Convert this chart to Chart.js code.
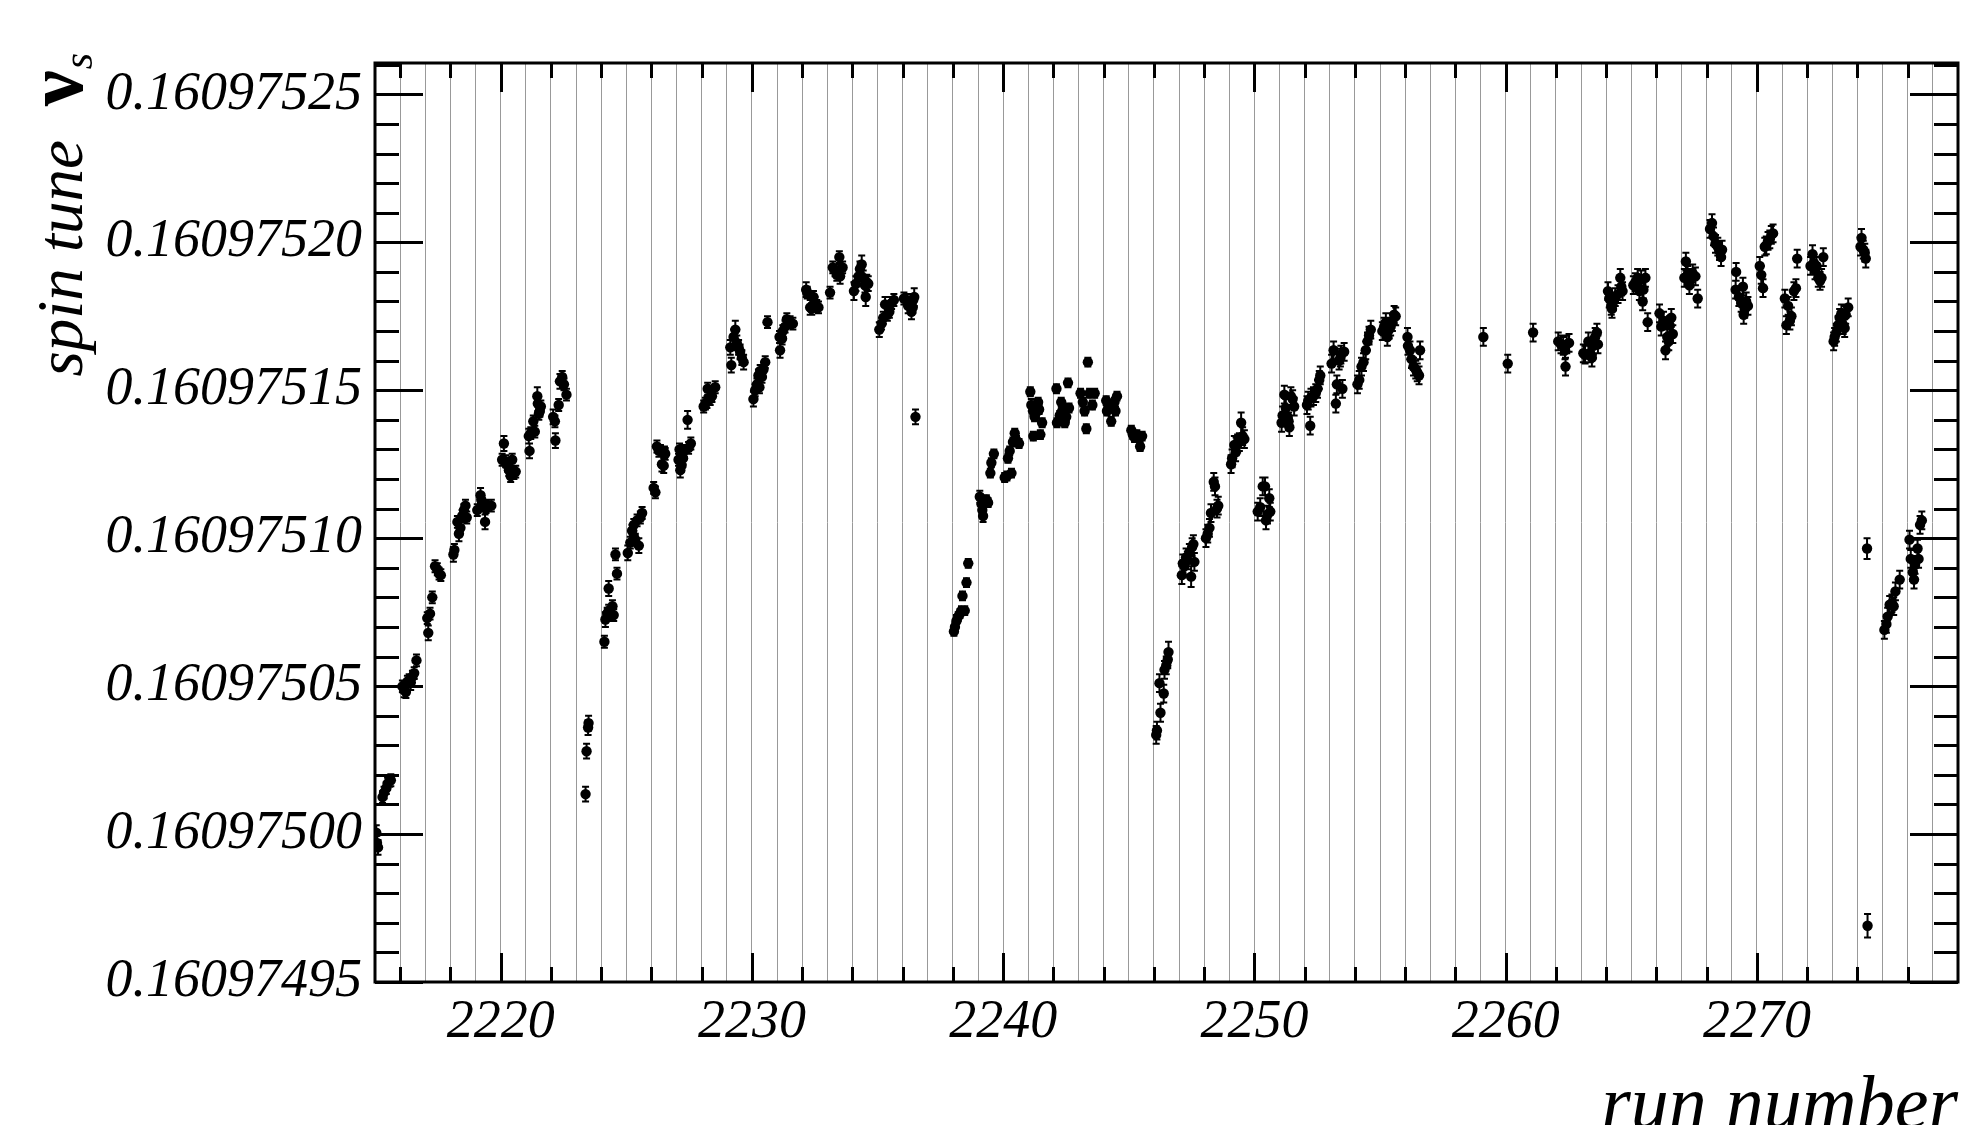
<!DOCTYPE html>
<html>
<head>
<meta charset="utf-8">
<script src="https://cdn.jsdelivr.net/npm/chart.js@4.4.1/dist/chart.umd.min.js"></script>
<style>
  html, body { margin: 0; padding: 0; background: #fff; overflow: hidden; }
  #wrap { position: relative; width: 1966px; height: 1125px; }
  canvas { display: block; }
</style>
</head>
<body>
<div id="wrap"><canvas id="c" width="1966" height="1125"></canvas></div>
<script>
// ---------------- data ----------------
const runNumber = [
  2215.05,2215.08,2215.12,2215.30,2215.36,2215.45,2215.50,2215.58,2215.63,
  2216.09,2216.16,2216.23,2216.29,2216.36,2216.42,2216.49,2216.56,2216.65,
  2217.08,2217.12,2217.19,2217.28,2217.39,2217.48,2217.55,2217.62,
  2218.12,2218.16,2218.28,2218.34,2218.40,2218.47,2218.54,2218.60,2218.65,
  2219.07,2219.20,2219.23,2219.30,2219.38,2219.42,2219.53,2219.63,
  2220.06,2220.13,2220.20,2220.28,2220.33,2220.40,2220.46,2220.53,2220.60,
  2221.12,2221.15,2221.20,2221.30,2221.36,2221.46,2221.48,2221.52,2221.56,2221.60,
  2222.09,2222.16,2222.18,2222.31,2222.36,2222.45,2222.52,2222.62,
  2223.38,2223.42,2223.48,2223.50,
  2224.13,2224.17,2224.24,2224.30,2224.30,2224.37,2224.45,2224.50,2224.57,2224.63,
  2225.06,2225.16,2225.23,2225.30,2225.30,2225.36,2225.43,2225.50,2225.56,2225.63,
  2226.09,2226.16,2226.22,2226.30,2226.36,2226.42,2226.49,2226.52,2226.55,
  2227.08,2227.12,2227.15,2227.20,2227.26,2227.30,2227.44,2227.48,2227.57,
  2228.08,2228.15,2228.21,2228.24,2228.34,2228.41,2228.54,
  2229.14,2229.18,2229.27,2229.34,2229.40,2229.47,2229.53,2229.60,2229.67,
  2230.06,2230.13,2230.20,2230.26,2230.30,2230.33,2230.40,2230.46,2230.53,2230.62,
  2231.10,2231.12,2231.20,2231.23,2231.32,2231.39,2231.52,2231.63,
  2232.16,2232.20,2232.32,2232.38,2232.45,2232.51,2232.58,2232.65,
  2233.11,2233.22,2233.31,2233.38,2233.44,2233.48,2233.51,2233.61,
  2234.06,2234.14,2234.24,2234.30,2234.37,2234.43,2234.50,2234.53,2234.57,2234.63,
  2235.07,2235.16,2235.23,2235.30,2235.39,2235.47,2235.56,2235.65,
  2236.05,2236.16,2236.22,2236.29,2236.35,2236.40,2236.42,2236.46,2236.51,
  2238.04,2238.08,2238.14,2238.21,2238.28,2238.34,2238.38,2238.47,2238.54,2238.61,
  2239.07,2239.14,2239.17,2239.20,2239.27,2239.33,2239.40,2239.49,2239.53,2239.63,
  2240.06,2240.15,2240.19,2240.26,2240.33,2240.39,2240.46,2240.53,2240.63,
  2241.08,2241.12,2241.19,2241.20,2241.25,2241.32,2241.39,2241.43,2241.48,2241.55,
  2242.12,2242.14,2242.25,2242.31,2242.35,2242.38,2242.45,2242.51,2242.58,2242.62,
  2243.08,2243.17,2243.24,2243.31,2243.37,2243.44,2243.55,2243.64,
  2244.10,2244.13,2244.23,2244.30,2244.37,2244.43,2244.47,2244.53,
  2245.10,2245.16,2245.23,2245.32,2245.40,2245.45,2245.53,
  2246.09,2246.12,2246.22,2246.26,2246.39,2246.42,2246.49,2246.55,2246.58,
  2247.11,2247.15,2247.21,2247.28,2247.33,2247.41,2247.48,2247.52,2247.57,2247.61,
  2248.07,2248.14,2248.21,2248.27,2248.38,2248.43,2248.51,2248.56,
  2249.07,2249.11,2249.20,2249.25,2249.27,2249.33,2249.40,2249.47,2249.53,2249.60,
  2250.13,2250.23,2250.33,2250.42,2250.46,2250.52,2250.59,2250.63,
  2251.08,2251.12,2251.19,2251.25,2251.32,2251.36,2251.39,2251.45,2251.52,2251.58,
  2252.09,2252.14,2252.22,2252.25,2252.35,2252.44,2252.51,2252.58,2252.62,
  2253.07,2253.15,2253.24,2253.28,2253.37,2253.42,2253.44,2253.50,2253.57,
  2254.10,2254.17,2254.26,2254.34,2254.43,2254.50,2254.56,2254.63,
  2255.09,2255.16,2255.23,2255.29,2255.36,2255.42,2255.49,2255.56,2255.62,
  2256.09,2256.11,2256.19,2256.25,2256.33,2256.42,2256.48,2256.55,2256.59,
  2259.11,
  2260.08,
  2261.09,
  2262.09,2262.20,2262.29,2262.36,2262.38,2262.43,2262.52,
  2263.09,2263.16,2263.29,2263.36,2263.43,2263.49,2263.56,2263.63,2263.67,
  2264.07,2264.12,2264.20,2264.23,2264.29,2264.36,2264.47,2264.56,2264.60,2264.65,
  2265.08,2265.16,2265.25,2265.32,2265.39,2265.45,2265.48,2265.56,2265.65,
  2266.12,2266.19,2266.28,2266.36,2266.43,2266.49,2266.52,2266.59,2266.65,
  2267.11,2267.17,2267.24,2267.31,2267.37,2267.44,2267.55,2267.64,
  2268.13,2268.21,2268.27,2268.35,2268.44,2268.51,2268.57,2268.61,
  2269.15,2269.17,2269.28,2269.37,2269.44,2269.47,2269.51,2269.57,2269.64,
  2270.11,2270.17,2270.24,2270.31,2270.37,2270.44,2270.51,2270.57,2270.64,
  2271.11,2271.17,2271.24,2271.31,2271.37,2271.47,2271.55,2271.60,
  2272.13,2272.21,2272.26,2272.31,2272.37,2272.44,2272.51,2272.57,2272.64,
  2273.05,2273.09,2273.16,2273.23,2273.29,2273.36,2273.43,2273.49,2273.53,2273.63,
  2274.12,2274.16,2274.23,2274.29,2274.33,2274.38,2274.40,
  2275.07,2275.15,2275.20,2275.28,2275.37,2275.44,2275.51,2275.68,
  2276.07,2276.12,2276.20,2276.25,2276.29,2276.39,2276.43,2276.49,2276.56
];

const spinTune = [
  0.1609750005,0.1609749970,0.1609749955,0.1609750125,0.1609750140,0.1609750155,0.1609750170,0.1609750180,0.1609750182,
  0.1609750499,0.1609750487,0.1609750480,0.1609750515,0.1609750520,0.1609750512,0.1609750532,0.1609750544,0.1609750587,
  0.1609750730,0.1609750680,0.1609750745,0.1609750800,0.1609750905,0.1609750895,0.1609750880,0.1609750875,
  0.1609750945,0.1609750960,0.1609751055,0.1609751015,0.1609751035,0.1609751075,0.1609751095,0.1609751110,0.1609751070,
  0.1609751095,0.1609751145,0.1609751130,0.1609751110,0.1609751055,0.1609751105,0.1609751110,0.1609751110,
  0.1609751265,0.1609751320,0.1609751260,0.1609751245,0.1609751230,0.1609751210,0.1609751265,0.1609751220,0.1609751225,
  0.1609751345,0.1609751295,0.1609751355,0.1609751395,0.1609751360,0.1609751480,0.1609751455,0.1609751420,0.1609751430,0.1609751445,
  0.1609751410,0.1609751395,0.1609751330,0.1609751450,0.1609751530,0.1609751545,0.1609751520,0.1609751485,
  0.1609750135,0.1609750280,0.1609750360,0.1609750375,
  0.1609750650,0.1609750725,0.1609750745,0.1609750755,0.1609750830,0.1609750740,0.1609750770,0.1609750740,0.1609750945,0.1609750880,
  0.1609750950,0.1609750985,0.1609751025,0.1609751045,0.1609751005,0.1609750995,0.1609751060,0.1609750975,0.1609751070,0.1609751085,
  0.1609751170,0.1609751155,0.1609751310,0.1609751295,0.1609751295,0.1609751250,0.1609751245,0.1609751290,0.1609751285,
  0.1609751265,0.1609751300,0.1609751230,0.1609751245,0.1609751270,0.1609751295,0.1609751400,0.1609751305,0.1609751320,
  0.1609751445,0.1609751455,0.1609751460,0.1609751505,0.1609751470,0.1609751480,0.1609751510,
  0.1609751645,0.1609751585,0.1609751680,0.1609751705,0.1609751660,0.1609751645,0.1609751630,0.1609751610,0.1609751595,
  0.1609751470,0.1609751500,0.1609751520,0.1609751550,0.1609751510,0.1609751565,0.1609751545,0.1609751570,0.1609751595,0.1609751730,
  0.1609751680,0.1609751635,0.1609751675,0.1609751700,0.1609751715,0.1609751740,0.1609751730,0.1609751725,
  0.1609751840,0.1609751830,0.1609751780,0.1609751775,0.1609751815,0.1609751795,0.1609751785,0.1609751780,
  0.1609751830,0.1609751915,0.1609751905,0.1609751890,0.1609751905,0.1609751950,0.1609751885,0.1609751915,
  0.1609751835,0.1609751860,0.1609751885,0.1609751910,0.1609751925,0.1609751880,0.1609751855,0.1609751815,0.1609751865,0.1609751860,
  0.1609751705,0.1609751725,0.1609751745,0.1609751790,0.1609751755,0.1609751765,0.1609751795,0.1609751805,
  0.1609751810,0.1609751805,0.1609751785,0.1609751795,0.1609751765,0.1609751780,0.1609751805,0.1609751815,0.1609751410,
  0.1609750685,0.1609750700,0.1609750720,0.1609750735,0.1609750745,0.1609750755,0.1609750805,0.1609750755,0.1609750850,0.1609750915,
  0.1609751140,0.1609751115,0.1609751095,0.1609751075,0.1609751125,0.1609751130,0.1609751120,0.1609751220,0.1609751255,0.1609751285,
  0.1609751205,0.1609751210,0.1609751270,0.1609751295,0.1609751220,0.1609751325,0.1609751355,0.1609751330,0.1609751320,
  0.1609751495,0.1609751450,0.1609751430,0.1609751345,0.1609751410,0.1609751425,0.1609751460,0.1609751435,0.1609751350,0.1609751390,
  0.1609751505,0.1609751390,0.1609751415,0.1609751460,0.1609751430,0.1609751435,0.1609751390,0.1609751410,0.1609751525,0.1609751440,
  0.1609751490,0.1609751460,0.1609751430,0.1609751370,0.1609751595,0.1609751490,0.1609751450,0.1609751490,
  0.1609751465,0.1609751430,0.1609751450,0.1609751395,0.1609751440,0.1609751460,0.1609751430,0.1609751480,
  0.1609751365,0.1609751350,0.1609751340,0.1609751350,0.1609751345,0.1609751310,0.1609751345,
  0.1609750335,0.1609750350,0.1609750510,0.1609750410,0.1609750475,0.1609750555,0.1609750570,0.1609750590,0.1609750615,
  0.1609750875,0.1609750915,0.1609750905,0.1609750935,0.1609750925,0.1609750950,0.1609750870,0.1609750970,0.1609750980,0.1609750920,
  0.1609751000,0.1609751015,0.1609751035,0.1609751085,0.1609751190,0.1609751175,0.1609751100,0.1609751110,
  0.1609751250,0.1609751270,0.1609751315,0.1609751290,0.1609751310,0.1609751320,0.1609751325,0.1609751390,0.1609751345,0.1609751335,
  0.1609751090,0.1609751105,0.1609751175,0.1609751175,0.1609751060,0.1609751080,0.1609751135,0.1609751090,
  0.1609751390,0.1609751415,0.1609751485,0.1609751440,0.1609751410,0.1609751395,0.1609751375,0.1609751480,0.1609751470,0.1609751445,
  0.1609751450,0.1609751465,0.1609751380,0.1609751475,0.1609751480,0.1609751490,0.1609751505,0.1609751535,0.1609751550,
  0.1609751590,0.1609751635,0.1609751455,0.1609751520,0.1609751600,0.1609751610,0.1609751620,0.1609751505,0.1609751630,
  0.1609751520,0.1609751535,0.1609751580,0.1609751595,0.1609751635,0.1609751665,0.1609751685,0.1609751705,
  0.1609751700,0.1609751715,0.1609751730,0.1609751680,0.1609751705,0.1609751715,0.1609751730,0.1609751755,0.1609751750,
  0.1609751680,0.1609751650,0.1609751635,0.1609751605,0.1609751580,0.1609751570,0.1609751560,0.1609751550,0.1609751635,
  0.1609751680,
  0.1609751590,
  0.1609751695,
  0.1609751665,0.1609751655,0.1609751650,0.1609751635,0.1609751580,0.1609751655,0.1609751660,
  0.1609751625,0.1609751620,0.1609751665,0.1609751625,0.1609751610,0.1609751650,0.1609751680,0.1609751695,0.1609751655,
  0.1609751835,0.1609751810,0.1609751785,0.1609751775,0.1609751800,0.1609751815,0.1609751825,0.1609751880,0.1609751850,0.1609751835,
  0.1609751855,0.1609751865,0.1609751880,0.1609751835,0.1609751875,0.1609751800,0.1609751840,0.1609751880,0.1609751730,
  0.1609751760,0.1609751715,0.1609751735,0.1609751635,0.1609751680,0.1609751665,0.1609751720,0.1609751745,0.1609751690,
  0.1609751880,0.1609751935,0.1609751890,0.1609751855,0.1609751880,0.1609751895,0.1609751885,0.1609751810,
  0.1609752045,0.1609752065,0.1609752020,0.1609751995,0.1609751985,0.1609751970,0.1609751950,0.1609751975,
  0.1609751840,0.1609751900,0.1609751815,0.1609751795,0.1609751850,0.1609751755,0.1609751775,0.1609751800,0.1609751785,
  0.1609751920,0.1609751890,0.1609751845,0.1609751985,0.1609751990,0.1609752005,0.1609752010,0.1609752025,0.1609752030,
  0.1609751810,0.1609751720,0.1609751785,0.1609751735,0.1609751750,0.1609751835,0.1609751845,0.1609751945,
  0.1609751920,0.1609751960,0.1609751930,0.1609751905,0.1609751920,0.1609751880,0.1609751870,0.1609751880,0.1609751950,
  0.1609751665,0.1609751680,0.1609751695,0.1609751720,0.1609751745,0.1609751760,0.1609751720,0.1609751710,0.1609751755,0.1609751780,
  0.1609751985,0.1609752015,0.1609751975,0.1609751965,0.1609751945,0.1609750965,0.1609749690,
  0.1609750690,0.1609750710,0.1609750735,0.1609750775,0.1609750780,0.1609750770,0.1609750820,0.1609750860,
  0.1609750995,0.1609750930,0.1609750885,0.1609750860,0.1609750910,0.1609750965,0.1609750930,0.1609751045,0.1609751060
];

const spinTuneErr = [
  2.5e-9,2.5e-9,2.5e-9,2e-9,2e-9,2e-9,2e-9,2e-9,2e-9,
  2e-9,2.5e-9,2e-9,2e-9,2e-9,2.5e-9,2e-9,2e-9,2e-9,
  2e-9,2.5e-9,2e-9,2e-9,2e-9,2e-9,2e-9,2e-9,
  2.5e-9,2e-9,2e-9,2.5e-9,2e-9,2e-9,2e-9,2e-9,2e-9,
  2e-9,2.5e-9,2e-9,2e-9,2.5e-9,2e-9,2e-9,2e-9,
  2e-9,2.5e-9,2e-9,2e-9,2e-9,2e-9,2e-9,2e-9,2e-9,
  2.5e-9,2.5e-9,2e-9,2e-9,2e-9,3e-9,2.5e-9,2e-9,2e-9,2e-9,
  2.5e-9,2e-9,2.5e-9,2e-9,2.5e-9,2e-9,2e-9,2e-9,
  2.5e-9,2.5e-9,2.5e-9,2.5e-9,
  2e-9,2.5e-9,2e-9,2e-9,2.5e-9,2e-9,2e-9,2e-9,2e-9,2e-9,
  2.5e-9,2e-9,2e-9,2e-9,2e-9,2e-9,2e-9,2.5e-9,2e-9,2e-9,
  2e-9,2e-9,2e-9,2e-9,2e-9,2.5e-9,2.5e-9,2e-9,2e-9,
  2e-9,2e-9,2.5e-9,2e-9,2e-9,2e-9,3e-9,2e-9,2e-9,
  2e-9,2e-9,2e-9,2e-9,2e-9,2e-9,2e-9,
  2.5e-9,2.5e-9,2.5e-9,3e-9,2.5e-9,2.5e-9,2.5e-9,2.5e-9,2.5e-9,
  2.5e-9,2e-9,2e-9,2e-9,2e-9,2e-9,2e-9,2.5e-9,2e-9,2e-9,
  2e-9,2.5e-9,2e-9,2e-9,2e-9,2e-9,2e-9,2e-9,
  2.5e-9,2e-9,2.5e-9,2e-9,2e-9,2e-9,2e-9,2e-9,
  2e-9,2e-9,2e-9,2e-9,2e-9,2e-9,2.5e-9,2e-9,
  3e-9,2.5e-9,2.5e-9,2.5e-9,3e-9,2.5e-9,2.5e-9,3e-9,2.5e-9,2.5e-9,
  2.5e-9,2e-9,2e-9,2.5e-9,2e-9,2e-9,2e-9,2e-9,
  2e-9,2e-9,2.5e-9,2e-9,2.5e-9,2e-9,2e-9,3e-9,2.5e-9,
  1.5e-9,1.5e-9,2e-9,1.5e-9,1.5e-9,1.5e-9,1.5e-9,1.5e-9,1.5e-9,1.5e-9,
  2e-9,2e-9,1.5e-9,2e-9,1.5e-9,1.5e-9,1.5e-9,1.5e-9,1.5e-9,1.5e-9,
  1.5e-9,1.5e-9,1.5e-9,1.5e-9,1.5e-9,1.5e-9,1.5e-9,1.5e-9,1.5e-9,
  1.5e-9,2e-9,1.5e-9,1.5e-9,1.5e-9,1.5e-9,1.5e-9,1.5e-9,1.5e-9,1.5e-9,
  1.5e-9,1.5e-9,1.5e-9,1.5e-9,1.5e-9,1.5e-9,1.5e-9,1.5e-9,1.5e-9,1.5e-9,
  1.5e-9,1.5e-9,1.5e-9,1.5e-9,1.5e-9,1.5e-9,1.5e-9,1.5e-9,
  1.5e-9,1.5e-9,1.5e-9,1.5e-9,1.5e-9,1.5e-9,1.5e-9,1.5e-9,
  1.5e-9,1.5e-9,1.5e-9,1.5e-9,1.5e-9,1.5e-9,1.5e-9,
  3e-9,3e-9,3e-9,3e-9,3e-9,3e-9,3e-9,3e-9,3.5e-9,
  3e-9,3e-9,3e-9,3e-9,3e-9,3e-9,3.5e-9,3e-9,3e-9,3e-9,
  3e-9,3e-9,3e-9,3e-9,3e-9,3e-9,3e-9,3e-9,
  3e-9,3e-9,3e-9,3e-9,3e-9,3e-9,3e-9,3.5e-9,3e-9,3e-9,
  3e-9,3e-9,3e-9,3e-9,3e-9,3e-9,3e-9,3e-9,
  3e-9,3e-9,3e-9,3e-9,3e-9,3e-9,3e-9,3e-9,3e-9,3e-9,
  3e-9,3e-9,3e-9,3e-9,3e-9,3e-9,3e-9,3e-9,3e-9,
  3e-9,3e-9,3e-9,3e-9,3e-9,3e-9,3e-9,3e-9,3e-9,
  3e-9,3e-9,3e-9,3e-9,3e-9,3e-9,3e-9,3e-9,
  3e-9,3e-9,3e-9,3e-9,3e-9,3e-9,3e-9,3e-9,3e-9,
  3e-9,3e-9,3e-9,3e-9,3e-9,3e-9,3e-9,3e-9,3e-9,
  3e-9,
  3e-9,
  3e-9,
  3e-9,3e-9,3e-9,3e-9,3e-9,3e-9,3e-9,
  3e-9,3e-9,3e-9,3e-9,3e-9,3e-9,3e-9,3e-9,3e-9,
  3e-9,3e-9,3e-9,3e-9,3e-9,3e-9,3e-9,3e-9,3e-9,3e-9,
  3e-9,3e-9,3e-9,3e-9,3e-9,3e-9,3e-9,3e-9,3e-9,
  3e-9,3e-9,3e-9,3e-9,3e-9,3e-9,3e-9,3e-9,3e-9,
  3e-9,3e-9,3e-9,3e-9,3e-9,3e-9,3e-9,3e-9,
  3e-9,3e-9,3e-9,3e-9,3e-9,3e-9,3e-9,3e-9,
  3e-9,3e-9,3e-9,3e-9,3e-9,3e-9,3e-9,3e-9,3e-9,
  3e-9,3e-9,3e-9,3e-9,3e-9,3e-9,3e-9,3e-9,3e-9,
  3e-9,3e-9,3e-9,3e-9,3e-9,3e-9,3e-9,3e-9,
  3e-9,3e-9,3e-9,3e-9,3e-9,3e-9,3e-9,3e-9,3e-9,
  3e-9,3e-9,3e-9,3e-9,3e-9,3e-9,3e-9,3e-9,3e-9,3e-9,
  3e-9,3e-9,3e-9,3e-9,3e-9,3.5e-9,4e-9,
  3e-9,3e-9,3e-9,3e-9,3e-9,3e-9,3e-9,3e-9,
  3e-9,3e-9,3e-9,3e-9,3e-9,3e-9,3e-9,3e-9,3e-9
];

// axis tick labels
const yTickValues = [0.16097495, 0.16097500, 0.16097505, 0.16097510, 0.16097515, 0.16097520, 0.16097525];
const xTickLabels = [2220, 2230, 2240, 2250, 2260, 2270];
const xRange = [2215, 2278];
const yRange = [0.16097495, 0.1609752606];
const xTitle = 'run number';
const yTitle = 'spin tune';

// ---------------- drawing ----------------
const SERIF = '"Liberation Serif", "Times New Roman", serif';

const errorBars = {
  id: 'errorBars',
  beforeDatasetsDraw(chart) {
    const {ctx, chartArea: a} = chart;
    const xs = chart.scales.x, ys = chart.scales.y;
    ctx.save();
    ctx.beginPath(); ctx.rect(a.left, a.top, a.right - a.left, a.bottom - a.top); ctx.clip();
    ctx.strokeStyle = '#000'; ctx.lineWidth = 2;
    ctx.beginPath();
    for (let i = 0; i < runNumber.length; i++) {
      const px = xs.getPixelForValue(runNumber[i]);
      const lo = ys.getPixelForValue(spinTune[i] - spinTuneErr[i]);
      const hi = ys.getPixelForValue(spinTune[i] + spinTuneErr[i]);
      ctx.moveTo(px, lo); ctx.lineTo(px, hi);
      ctx.moveTo(px - 3.5, lo); ctx.lineTo(px + 3.5, lo);
      ctx.moveTo(px - 3.5, hi); ctx.lineTo(px + 3.5, hi);
    }
    ctx.stroke();
    ctx.restore();
  }
};

const frameAndTicks = {
  id: 'frameAndTicks',
  afterDraw(chart) {
    const {ctx, chartArea: a} = chart;
    const xs = chart.scales.x, ys = chart.scales.y;
    ctx.save();
    ctx.strokeStyle = '#000';
    ctx.lineWidth = 3;
    ctx.beginPath();
    // y ticks (major + 4 minor subdivisions), on both vertical sides, pointing inward
    const yStep = (yTickValues[1] - yTickValues[0]) / 5;
    for (let k = 0; k * yStep + yTickValues[0] <= yRange[1] + 1e-15; k++) {
      const v = yTickValues[0] + k * yStep;
      const py = Math.round(ys.getPixelForValue(v)) + 0.5;
      const len = (k % 5 === 0) ? 48 : 24;
      ctx.moveTo(a.left, py); ctx.lineTo(a.left + len, py);
      ctx.moveTo(a.right, py); ctx.lineTo(a.right - len, py);
    }
    // x ticks: major every 10, minor every 2, bottom and top
    for (let r = xRange[0] + 1; r < xRange[1]; r++) {
      if (r % 2 !== 0) continue;
      const px = Math.round(xs.getPixelForValue(r)) + 0.5;
      const len = xTickLabels.includes(r) ? 29 : 15;
      ctx.moveTo(px, a.bottom); ctx.lineTo(px, a.bottom - len);
      ctx.moveTo(px, a.top); ctx.lineTo(px, a.top + len);
    }
    ctx.stroke();
    ctx.lineWidth = 3;
    ctx.strokeRect(a.left, a.top, a.right - a.left, a.bottom - a.top);
    ctx.restore();

    // axis titles
    ctx.save();
    ctx.fillStyle = '#000';
    ctx.textBaseline = 'alphabetic';
    ctx.font = 'italic 76px ' + SERIF;
    ctx.textAlign = 'right';
    ctx.fillText(xTitle, a.right, 1128);

    ctx.translate(82, 54);
    ctx.rotate(-Math.PI / 2);
    ctx.textAlign = 'left';
    const f1 = 'italic 65px ' + SERIF, f2 = 'bold 80px ' + SERIF, f3 = 'italic 42px ' + SERIF;
    const gap = 34;
    ctx.font = f1; const w1 = ctx.measureText(yTitle).width;
    ctx.font = f2; const w2 = ctx.measureText('ν').width;
    ctx.font = f3; const w3 = ctx.measureText('s').width;
    const x0 = -(w1 + gap + w2 + w3);
    ctx.font = f1; ctx.fillText(yTitle, x0, 0);
    ctx.font = f2; ctx.fillText('ν', x0 + w1 + gap, 0);
    ctx.font = f3; ctx.fillText('s', x0 + w1 + gap + w2 + 1, 10);
    ctx.restore();
  }
};

const points = runNumber.map((r, i) => ({x: r, y: spinTune[i]}));

new Chart(document.getElementById('c'), {
  type: 'scatter',
  data: { datasets: [{
    data: points,
    pointRadius: 5.2,
    pointHoverRadius: 5.2,
    pointBackgroundColor: '#000',
    pointBorderWidth: 0,
    borderColor: '#000',
    clip: 0
  }]},
  options: {
    responsive: false,
    animation: false,
    devicePixelRatio: 1,
    layout: { padding: { left: 0, right: 6, top: 63, bottom: 0 } },
    plugins: { legend: { display: false }, tooltip: { enabled: false }, title: { display: false } },
    scales: {
      x: {
        type: 'linear',
        min: xRange[0], max: xRange[1],
        afterBuildTicks(s) {
          const t = [];
          for (let r = xRange[0]; r <= xRange[1]; r++) t.push({value: r});
          s.ticks = t;
        },
        afterFit(s) { s.height = 143; },
        ticks: {
          autoSkip: false, maxRotation: 0, minRotation: 0,
          padding: 8, color: '#000',
          font: { family: SERIF, style: 'italic', size: 54 },
          callback: v => xTickLabels.includes(v) ? String(v) : ''
        },
        grid: { color: '#999999', lineWidth: 1, drawTicks: false },
        border: { display: false }
      },
      y: {
        type: 'linear',
        min: yRange[0], max: yRange[1],
        afterBuildTicks(s) { s.ticks = yTickValues.map(v => ({value: v})); },
        afterFit(s) { s.width = 375; },
        ticks: {
          padding: 13, color: '#000',
          font: { family: SERIF, style: 'italic', size: 54 },
          callback: v => Number(v).toFixed(8)
        },
        grid: { display: false, drawTicks: false },
        border: { display: false }
      }
    }
  },
  plugins: [errorBars, frameAndTicks]
});
</script>
</body>
</html>
